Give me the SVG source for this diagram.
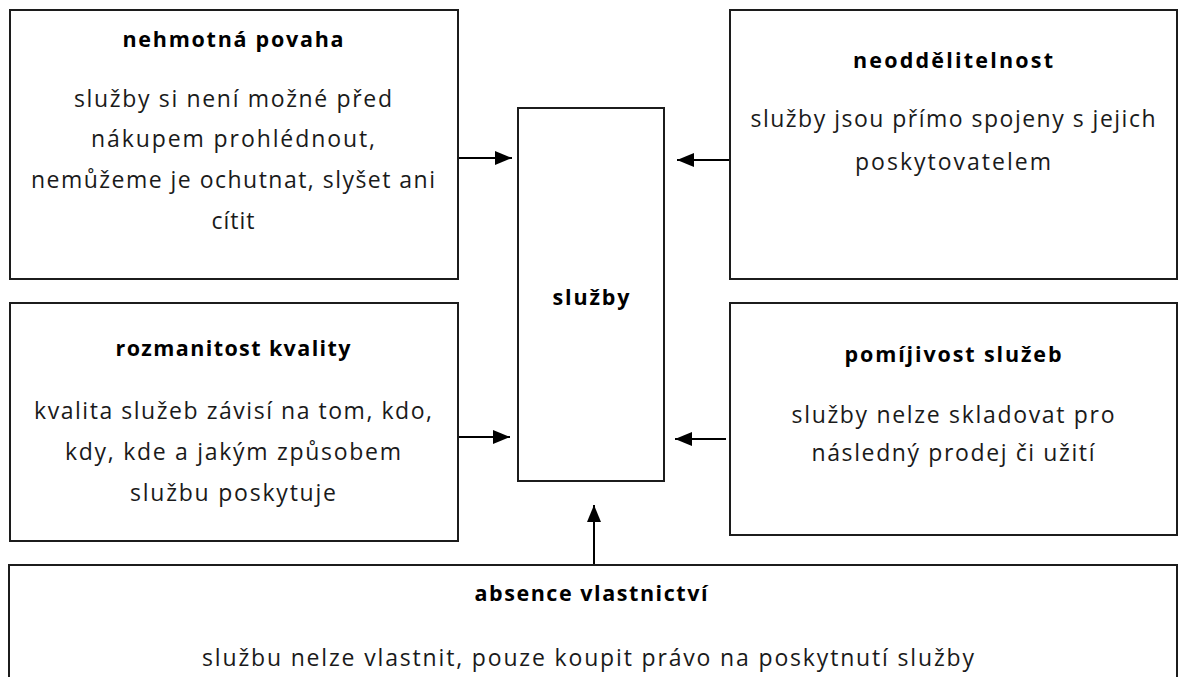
<svg xmlns="http://www.w3.org/2000/svg" width="1178" height="677" viewBox="0 0 1178 677">
  <style>
    .box { fill: #ffffff; stroke: #1c1c1c; stroke-width: 2; }
    .t { font-family: "Open Sans", "Liberation Sans", sans-serif; font-size: 21.5px; font-weight: bold; fill: #000000; text-anchor: middle; }
    .b { font-family: "Open Sans", "Liberation Sans", sans-serif; font-size: 23px; fill: #1a1a1a; text-anchor: middle; }
    .c { stroke: #000000; stroke-width: 2; fill: none; }
  </style>
  <defs>
    <marker id="ah" markerUnits="userSpaceOnUse" markerWidth="18" markerHeight="16" refX="17" refY="7" orient="auto" viewBox="0 0 18 14">
      <path d="M0,0 L17,7 L0,14 Z" fill="#000000"/>
    </marker>
  </defs>
  <rect x="0" y="0" width="1178" height="677" fill="#ffffff"/>

  <g id="node-nehmotna">
    <rect class="box" x="10" y="10" width="448" height="269"/>
    <text class="t" x="233" y="47" textLength="221">nehmotná povaha</text>
    <text class="b" x="233" y="107" textLength="318">služby si není možné před</text>
    <text class="b" x="233" y="147" textLength="284">nákupem prohlédnout,</text>
    <text class="b" x="233" y="188" textLength="404">nemůžeme je ochutnat, slyšet ani</text>
    <text class="b" x="233" y="229" textLength="43">cítit</text>
  </g>

  <g id="node-neoddelitelnost">
    <rect class="box" x="730" y="10" width="447" height="269"/>
    <text class="t" x="953" y="68" textLength="200">neoddělitelnost</text>
    <text class="b" x="953" y="127" textLength="405">služby jsou přímo spojeny s jejich</text>
    <text class="b" x="953" y="170" textLength="196">poskytovatelem</text>
  </g>

  <g id="node-rozmanitost">
    <rect class="box" x="10" y="303" width="448" height="238"/>
    <text class="t" x="233" y="356" textLength="235">rozmanitost kvality</text>
    <text class="b" x="233" y="419" textLength="398">kvalita služeb závisí na tom, kdo,</text>
    <text class="b" x="233" y="460" textLength="336">kdy, kde a jakým způsobem</text>
    <text class="b" x="233" y="501" textLength="206">službu poskytuje</text>
  </g>

  <g id="node-pomijivost">
    <rect class="box" x="730" y="303" width="447" height="232"/>
    <text class="t" x="953" y="362" textLength="217">pomíjivost služeb</text>
    <text class="b" x="953" y="423" textLength="323">služby nelze skladovat pro</text>
    <text class="b" x="953" y="461" textLength="283">následný prodej či užití</text>
  </g>

  <g id="node-sluzby">
    <rect class="box" x="518" y="108" width="146" height="373"/>
    <text class="t" x="591" y="305" textLength="77">služby</text>
  </g>

  <g id="node-absence">
    <rect class="box" x="9" y="565" width="1168" height="130"/>
    <text class="t" x="591" y="601" textLength="233">absence vlastnictví</text>
    <text class="b" x="588" y="666" textLength="772">službu nelze vlastnit, pouze koupit právo na poskytnutí služby</text>
  </g>

  <g id="connectors">
    <line class="c" x1="459" y1="158" x2="512" y2="158" marker-end="url(#ah)"/>
    <line class="c" x1="729" y1="160" x2="677" y2="160" marker-end="url(#ah)"/>
    <line class="c" x1="459" y1="437" x2="510" y2="437" marker-end="url(#ah)"/>
    <line class="c" x1="726" y1="439" x2="675" y2="439" marker-end="url(#ah)"/>
    <line class="c" x1="594" y1="564" x2="594" y2="505" marker-end="url(#ah)"/>
  </g>
</svg>
